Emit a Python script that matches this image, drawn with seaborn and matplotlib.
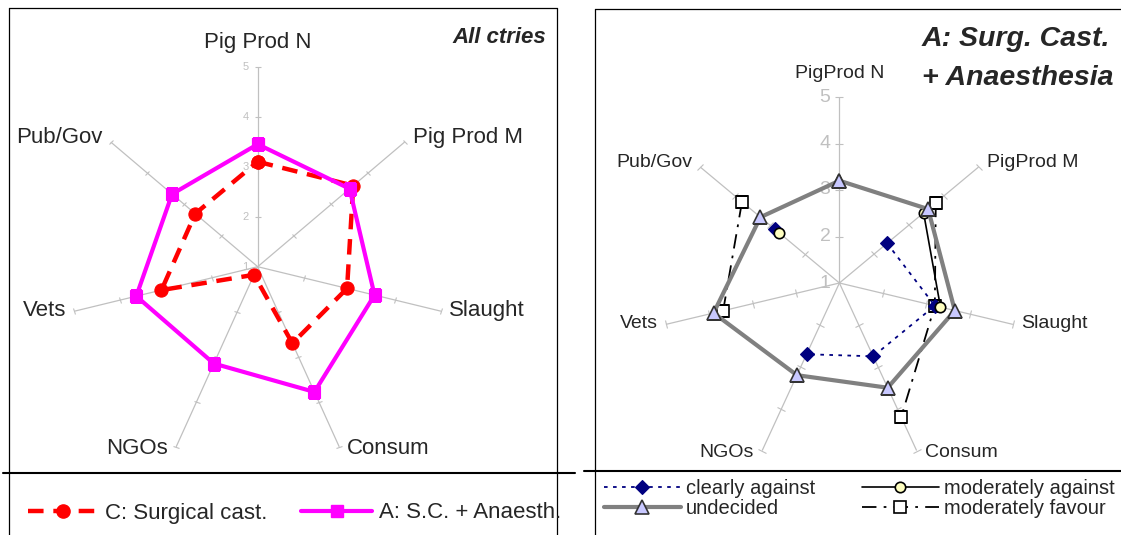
import numpy as np
import matplotlib
matplotlib.use("Agg")
import matplotlib.pyplot as plt
from matplotlib.lines import Line2D
from matplotlib.markers import MarkerStyle
from matplotlib.transforms import Affine2D
import seaborn as sns

# ---- data -------------------------------------------------------------
labels_all = ["Pig Prod N", "Pig Prod M", "Slaught", "Consum", "NGOs", "Vets", "Pub/Gov"]
labels_anaes = ["PigProd N", "PigProd M", "Slaught", "Consum", "NGOs", "Vets", "Pub/Gov"]
value_ticks = [1, 2, 3, 4, 5]

surgical_cast = [3.1, 3.6, 2.95, 2.7, 1.18, 3.1, 2.7]
sc_anaesth = [3.45, 3.5, 3.55, 3.78, 3.15, 3.65, 3.33]

nan = np.nan
clearly_against = [nan, 2.37, 3.2, 2.75, 2.7, nan, 2.85]
moderately_against = [nan, 3.42, 3.33, nan, nan, nan, 2.73]
undecided = [3.2, 3.55, 3.66, 3.5, 3.2, 3.9, 3.27]
moderately_favour = [nan, 3.77, 3.2, 4.2, nan, 3.68, 3.8]

# ---- style ------------------------------------------------------------
sns.set_theme(style="white")
plt.rcParams["font.family"] = ["Liberation Sans", "DejaVu Sans"]

W, H = 1121, 535
GRID = "#C0C0C0"
fig = plt.figure(figsize=(W / 100, H / 100), dpi=100)
fig.patch.set_facecolor("white")

n = len(labels_all)
angles = np.arange(n) * 2 * np.pi / n
theta_closed = np.append(angles, 2 * np.pi)


def closed(v):
    return np.append(v, v[0])


def fx(px):
    return px / W


def fy(py):
    return 1 - py / H


def radar_axes(cx, cy, rx, ry):
    ax = fig.add_axes([fx(cx - rx), fy(cy + ry), 2 * rx / W, 2 * ry / H],
                      projection="polar")
    ax.set_aspect("auto")
    ax.set_theta_zero_location("N")
    ax.set_theta_direction(-1)
    ax.set_facecolor("none")
    ax.spines["polar"].set_visible(False)
    ax.set_xticks(angles)
    ax.set_xticklabels([])
    ax.set_yticks([])
    ax.xaxis.grid(True, color=GRID, lw=0.9)
    ax.yaxis.grid(False)
    ax.tick_params(axis="x", length=0, pad=0)
    return ax


def finish_axes(ax, rx, ry, names, label_size, tick_size, tick_font, gap=8):
    ax.set_xlim(0, 2 * np.pi)
    ax.set_ylim(value_ticks[0], value_ticks[-1])
    # short cross ticks on every spoke
    for th in angles:
        phi = np.degrees(np.arctan2(np.cos(th) * ry, np.sin(th) * rx))
        m = MarkerStyle("|", transform=Affine2D().rotate_deg(phi))
        ax.plot(np.full(len(value_ticks) - 1, th), value_ticks[1:], ls="none",
                marker=m, ms=tick_size, mew=0.8, color=GRID, zorder=1.5,
                clip_on=False)
    # value labels beside the first spoke
    for v in value_ticks:
        ax.annotate(str(v), xy=(0, v), xytext=(-9, 0), textcoords="offset pixels",
                    ha="right", va="center", fontsize=tick_font, color=GRID,
                    annotation_clip=False, zorder=1.6)
    # category labels at the spoke ends
    lifts = [0, 5, 1, -1.5, -1.5, 1, 5]
    for i, (name, th) in enumerate(zip(names, angles)):
        s = np.sin(th)
        if abs(s) < 1e-9:
            ax.annotate(name, xy=(th, 5), xytext=(0, 19), textcoords="offset pixels",
                        ha="center", va="baseline", fontsize=label_size,
                        annotation_clip=False)
        else:
            ax.annotate(name, xy=(th, 5),
                        xytext=(gap if s > 0 else -gap, lifts[i]),
                        textcoords="offset pixels",
                        ha="left" if s > 0 else "right", va="center",
                        fontsize=label_size, annotation_clip=False)


# ---- left panel: all countries ------------------------------------------
L = dict(cx=257.7, cy=266.7, rx=188, ry=200)
axL = radar_axes(**L)
sns.lineplot(x=theta_closed, y=closed(surgical_cast), ax=axL, sort=False,
             color="#FF0000", linewidth=3.2, linestyle=(0, (3.5, 2.2)),
             marker="o", markersize=9.5, markerfacecolor="#FF0000",
             markeredgecolor="#FF0000", markeredgewidth=0.8, zorder=3)
sns.lineplot(x=theta_closed, y=closed(sc_anaesth), ax=axL, sort=False,
             color="#FF00FF", linewidth=3.0, linestyle="-",
             marker="s", markersize=8.5, markerfacecolor="#FF00FF",
             markeredgecolor="#FF00FF", markeredgewidth=0.8, zorder=4)
finish_axes(axL, L["rx"], L["ry"], labels_all, 16, 4.5, 8)

fig.text(fx(546), fy(42.7), "All ctries", ha="right", va="baseline",
         fontsize=16, fontweight="bold", fontstyle="italic")

hL = [Line2D([], [], color="#FF0000", lw=3.2, ls=(0, (3.5, 2.2)), marker="o",
             ms=9.5, mfc="#FF0000", mec="#FF0000"),
      Line2D([], [], color="#FF00FF", lw=3.0, marker="s", ms=8.5,
             mfc="#FF00FF", mec="#FF00FF")]
fig.legend(hL, ["C: Surgical cast.", "A: S.C. + Anaesth."], ncol=2,
           loc="center left", bbox_to_anchor=(fx(27.7), fy(513)),
           frameon=False, fontsize=16, handlelength=3.2, handletextpad=0.3,
           columnspacing=1.5, borderpad=0, borderaxespad=0)

# ---- right panel: surgical castration with anaesthesia ----------------------
R = dict(cx=839.4, cy=283, rx=178, ry=186)
axR = radar_axes(**R)
series = [
    (moderately_favour, dict(color="black", lw=1.3, ls=(0, (8, 4, 1.5, 4)),
                             marker="s", ms=8, mfc="white", mec="black", mew=1.2,
                             zorder=3)),
    (clearly_against, dict(color="#000080", lw=1.3, ls=(0, (2, 3)), marker="D",
                           ms=7.5, mfc="#000080", mec="#000080", mew=0.8,
                           zorder=4)),
    (moderately_against, dict(color="black", lw=1.2, ls="-", marker="o", ms=7.5,
                              mfc="#FFFFC0", mec="black", mew=1.2, zorder=5)),
    (undecided, dict(color="#808080", lw=3.0, ls="-", marker="^", ms=10,
                     mfc="#C8C8FF", mec="#333333", mew=1.2, zorder=6)),
]
handles = {}
for vals, kw in series:
    line, = axR.plot(theta_closed, closed(vals), **kw)
    handles[id(vals)] = line
finish_axes(axR, R["rx"], R["ry"], labels_anaes, 14, 6, 14)

fig.text(fx(1110), fy(46), "A: Surg. Cast.", ha="right", va="baseline",
         fontsize=20.5, fontweight="bold", fontstyle="italic")
fig.text(fx(1113), fy(84.6), "+ Anaesthesia", ha="right", va="baseline",
         fontsize=20.5, fontweight="bold", fontstyle="italic")

order = [(clearly_against, "clearly against"), (undecided, "undecided"),
         (moderately_against, "moderately against"),
         (moderately_favour, "moderately favour")]
fig.legend([handles[id(v)] for v, _ in order], [t for _, t in order], ncol=2,
           loc="center left", bbox_to_anchor=(fx(603.5), fy(498.5)),
           frameon=False, fontsize=14.5, handlelength=3.85, handletextpad=0.25,
           columnspacing=2.3, labelspacing=0.05, borderpad=0, borderaxespad=0)

# ---- panel frames and separators ---------------------------------------------
def hline(x0, x1, y, lw):
    fig.add_artist(Line2D([fx(x0), fx(x1)], [fy(y), fy(y)], color="black", lw=lw,
                          transform=fig.transFigure))


def vline(x, y0, y1, lw):
    fig.add_artist(Line2D([fx(x), fx(x)], [fy(y0), fy(y1)], color="black", lw=lw,
                          transform=fig.transFigure))


vline(8.5, 7.5, 535, 0.9)
vline(556.5, 7.5, 535, 0.9)
hline(8.5, 556.5, 7.5, 0.9)
hline(3, 575, 472.5, 1.5)
vline(594.5, 9, 535, 0.9)
hline(594.5, 1121, 9, 0.9)
hline(584, 1121, 471, 1.5)

fig.savefig("out.png", dpi=100, facecolor="white")
